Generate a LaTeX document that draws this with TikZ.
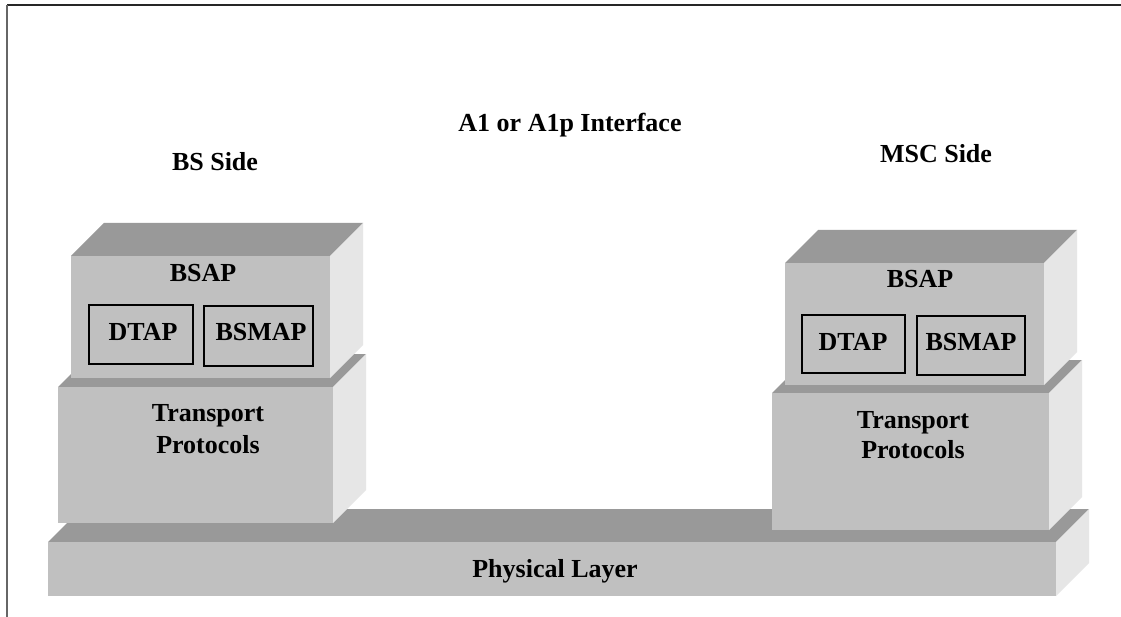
\documentclass[tikz,border=0pt]{standalone}
\usepackage{fontspec}
\setmainfont{Liberation Serif}
\definecolor{frontc}{HTML}{C0C0C0}
\definecolor{topc}{HTML}{999999}
\definecolor{sidec}{HTML}{E6E6E6}
\newcommand{\layerbox}[4]{%
  \fill[topc] (#1,#2) -- (#1+33,#2-33) -- (#3+33,#2-33) -- (#3,#2) -- cycle;
  \fill[sidec] (#3,#2) -- (#3+33,#2-33) -- (#3+33,#4-33) -- (#3,#4) -- cycle;
  \fill[frontc] (#1,#2) rectangle (#3,#4);
}
\tikzset{
  lbl/.style={font=\fontsize{26}{33}\selectfont\bfseries, inner sep=0pt, anchor=base},
  inbox/.style={draw=black, line width=1.5pt, fill=frontc, inner sep=0pt},
}
\begin{document}
\begin{tikzpicture}[x=1pt,y=-1pt]
\useasboundingbox (0,0) rectangle (1121,617);
\fill[white] (0,0) rectangle (1121,617);
% frame
\draw[line width=1.5pt, color=black!85] (7,5) -- (1121,5);
\draw[line width=1.5pt, color=black!60] (7,5) -- (7,617);
% layers
\layerbox{48}{542}{1056}{596}
\layerbox{58}{387}{333}{523}
\layerbox{71}{256}{330}{378}
\layerbox{772}{393}{1049}{530}
\layerbox{785}{263}{1044}{385}
% inner boxes
\node[inbox, minimum width=104pt, minimum height=59pt] (ldtapbox) at (141,334.5) {};
\node[inbox, minimum width=109pt, minimum height=60pt] (lbsmapbox) at (258.5,336) {};
\node[inbox, minimum width=103pt, minimum height=58pt] (rdtapbox) at (853.5,344) {};
\node[inbox, minimum width=108pt, minimum height=59pt] (rbsmapbox) at (971,345.5) {};
% texts
\node[lbl] (title) at (570,132) {A1 or A1p Interface};
\node[lbl] (bsside) at (215,171) {BS Side};
\node[lbl] (mscside) at (936,163) {MSC Side};
\node[lbl] (lbsap) at (203,282) {BSAP};
\node[lbl] (ldtap) at (143,341) {DTAP};
\node[lbl] (lbsmap) at (261,341) {BSMAP};
\node[lbl] (ltr1) at (208,421) {Transport};
\node[lbl] (ltr2) at (208,453) {Protocols};
\node[lbl] (rbsap) at (920,288) {BSAP};
\node[lbl] (rdtap) at (853,351) {DTAP};
\node[lbl] (rbsmap) at (971,351) {BSMAP};
\node[lbl] (rtr1) at (913,428) {Transport};
\node[lbl] (rtr2) at (913,458) {Protocols};
\node[lbl] (phys) at (555,577) {Physical Layer};
\end{tikzpicture}
\end{document}
